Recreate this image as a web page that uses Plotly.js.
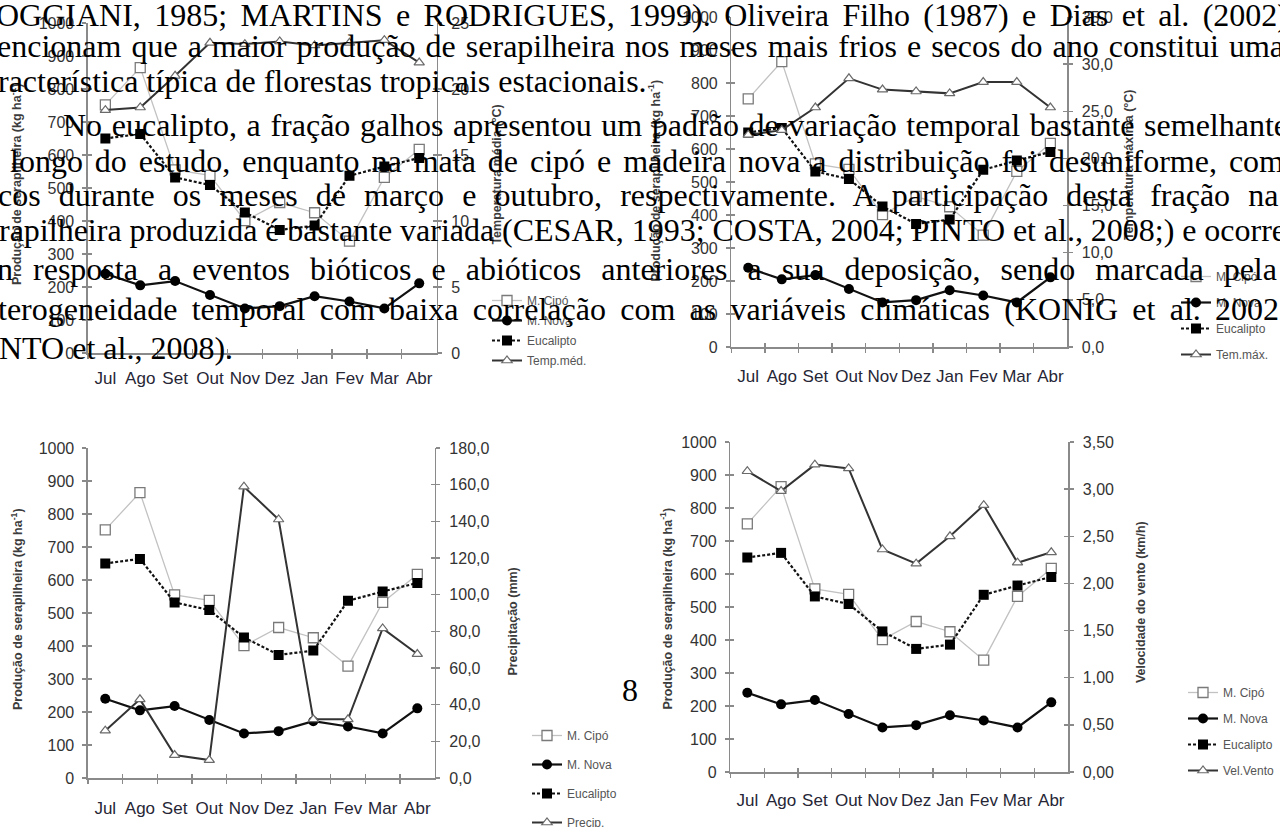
<!DOCTYPE html>
<html><head><meta charset="utf-8">
<script src="https://cdn.plot.ly/plotly-3.0.1.min.js"></script>
<style>
html,body{margin:0;padding:0;background:#fff;overflow:hidden}
#wrap{position:relative;width:1280px;height:827px;overflow:hidden}
#chart{position:absolute;left:0;top:0;width:1280px;height:880px}
#txt{position:absolute;left:0;top:0;width:1280px;height:827px;pointer-events:none;overflow:hidden}
.ln{position:absolute;white-space:nowrap;font-family:"Liberation Serif","Times New Roman",serif;font-size:32px;color:#000;line-height:32px}
</style></head><body>
<div id="wrap"><div id="chart"></div><div id="txt"></div></div>
<script>
// ---- data ----
const meses = ["Jul","Ago","Set","Out","Nov","Dez","Jan","Fev","Mar","Abr"];
const mCipo = [752, 865, 555, 538, 401, 456, 425, 339, 532, 617];
const mNova = [240, 205, 218, 176, 135, 142, 172, 156, 135, 211];
const eucalipto = [650, 664, 532, 509, 426, 373, 386, 537, 565, 591];
const tempMed = [18.4, 18.6, 21.0, 23.5, 23.4, 23.6, 23.3, 23.5, 23.7, 22.0];
const temMax = [22.5, 23.0, 25.4, 28.5, 27.3, 27.1, 26.9, 28.1, 28.1, 25.4];
const precip = [25.8, 42.9, 12.5, 9.8, 158.9, 141.0, 32.0, 32.0, 81.6, 67.6];
const velVento = [3.19, 2.98, 3.26, 3.22, 2.36, 2.21, 2.50, 2.83, 2.22, 2.33];
const nomesSerie = ["M. Cipó", "M. Nova", "Eucalipto"];
const nomesClima = ["Temp.méd.", "Tem.máx.", "Precip.", "Vel.Vento"];
const tituloEsq = "Produção de serapilheira (kg ha<sup>-1</sup>)";
const titulosDir = ["Temperatura média (°C)", "Temperatura máxima (°C)", "Precipitação (mm)", "Velocidade do vento (km/h)"];
const paragrafo = [
  "OGGIANI, 1985; MARTINS e RODRIGUES, 1999). Oliveira Filho (1987) e Dias et al. (2002)",
  "encionam que a maior produção de serapilheira nos meses mais frios e secos do ano constitui uma",
  "racterística típica de florestas tropicais estacionais.",
  "No eucalipto, a fração galhos apresentou um padrão de variação temporal bastante semelhante",
  "longo do estudo, enquanto na mata de cipó e madeira nova a distribuição foi desuniforme, com",
  "cos durante os meses de março e outubro, respectivamente. A participação desta fração na",
  "rapilheira produzida é bastante variada (CESAR, 1993; COSTA, 2004; PINTO et al., 2008;) e ocorre",
  "n resposta a eventos bióticos e abióticos anteriores a sua deposição, sendo marcada pela",
  "terogeneidade temporal com baixa correlação com as variáveis climáticas (KONIG et al. 2002;",
  "NTO et al., 2008)."
];
const pagina = "8";

// ---- layout helpers (pixel positions) ----
const W = 1280, H = 880;   // plot is taller than the window so the cut-off legend does not push margins
const fx = p => p / W, fy = p => 1 - p / H;
const axc = '#8a8a8a';
const climas = [tempMed, temMax, precip, velVento];
const charts = [
  {xd:[88,437], yd:[23,353], r:[0,25], dt:5, fmt:'d', tl:16, tr:497, tc:184, trc:175, leg:[487,286], gap:1, ls:9},
  {xd:[732,1068], yd:[17,347], r:[0,35], dt:5, fmt:'.1f', tl:655, tr:1130, tc:180, trc:165, leg:[1176,262], gap:7, ls:13},
  {xd:[88,435], yd:[448,778], r:[0,180], dt:20, fmt:'.1f', tl:17, tr:513, tc:609, trc:622, leg:[527,721], gap:10, ls:14},
  {xd:[731,1069], yd:[442,772], r:[0,3.5], dt:0.5, fmt:'.2f', tl:667, tr:1142, tc:608, trc:602, leg:[1184,678], gap:7, ls:12}
];
const id = (p, n) => n === 1 ? p : p + n;
const key = (p, n) => p + 'axis' + (n === 1 ? '' : n);

const layout = {
  width: W, height: H, margin: {l:0, r:0, t:0, b:0},
  paper_bgcolor: '#fff', plot_bgcolor: 'rgba(0,0,0,0)',
  separators: ',.', showlegend: true,
  font: {family: 'Liberation Sans, Arial, sans-serif', color: '#333'},
  annotations: []
};
const data = [];
const bounds = meses.map((m, k) => k - 0.5).concat([meses.length - 0.5]);

charts.forEach((c, i) => {
  const xn = i + 1, yl = 2 * i + 1, yr = 2 * i + 2;
  const xo = 5 + i, ylo = 9 + 2 * i, yro = 10 + 2 * i;
  const xdom = [fx(c.xd[0]), fx(c.xd[1])];
  const ydom = [fy(c.yd[1]), fy(c.yd[0])];
  const common = {showgrid:false, zeroline:false, fixedrange:true, tickcolor:axc, tickwidth:1.3};
  layout[key('x', xn)] = Object.assign({}, common, {
    domain: xdom, anchor: id('y', yl), type: 'category', categoryorder: 'array', categoryarray: meses,
    range: [-0.5, meses.length - 0.5], tickson: 'boundaries', ticks: 'outside', ticklen: 4,
    tickangle: 0, ticklabelstandoff: c.ls,
    showline: true, linecolor: axc, linewidth: 1.5, tickfont: {size: 17, color: '#262636'}
  });
  layout[key('y', yl)] = Object.assign({}, common, {
    domain: ydom, anchor: id('x', xn), range: [0, 1000], dtick: 100, tick0: 0,
    ticks: 'outside', ticklen: 4, showline: true, linecolor: axc, linewidth: 1.5, ticklabelstandoff: 5,
    tickfont: {size: 16, color: '#333'}
  });
  layout[key('y', yr)] = Object.assign({}, common, {
    overlaying: id('y', yl), side: 'right', anchor: id('x', xn), range: c.r, dtick: c.dt, tick0: 0,
    tickformat: c.fmt, ticks: 'outside', ticklen: 4, showline: true, linecolor: axc, linewidth: 1.5,
    ticklabelstandoff: 6, tickfont: {size: 16, color: '#333'}
  });
  // inner halves of the crossing ticks
  layout[key('x', xo)] = Object.assign({}, common, {
    overlaying: id('x', xn), anchor: id('y', yl), range: [-0.5, meses.length - 0.5],
    tickmode: 'array', tickvals: bounds, ticks: 'inside', ticklen: 4, showticklabels: false, showline: false
  });
  layout[key('y', ylo)] = Object.assign({}, common, {
    overlaying: id('y', yl), anchor: id('x', xn), side: 'left', range: [0, 1000], dtick: 100, tick0: 0,
    ticks: 'inside', ticklen: 4, showticklabels: false, showline: false
  });
  layout[key('y', yro)] = Object.assign({}, common, {
    overlaying: id('y', yl), anchor: id('x', xn), side: 'right', range: c.r, dtick: c.dt, tick0: 0,
    ticks: 'inside', ticklen: 4, showticklabels: false, showline: false
  });
  // empty traces so the tick-only axes get drawn
  data.push({x: [], y: [], xaxis: id('x', xo), yaxis: id('y', ylo), type: 'scatter', mode: 'lines', showlegend: false, hoverinfo: 'skip'});
  data.push({x: [], y: [], xaxis: id('x', xo), yaxis: id('y', yro), type: 'scatter', mode: 'lines', showlegend: false, hoverinfo: 'skip'});

  const lg = i === 0 ? 'legend' : 'legend' + (i + 1);
  layout[lg] = {
    x: fx(c.leg[0]), y: fy(c.leg[1]), xanchor: 'left', yanchor: 'top',
    bgcolor: 'rgba(0,0,0,0)', borderwidth: 0, tracegroupgap: c.gap,
    font: {size: 12, color: '#555', family: 'Liberation Sans, Arial, sans-serif'}
  };
  const base = {x: meses, xaxis: id('x', xn), mode: 'lines+markers', legend: lg, hoverinfo: 'skip'};
  data.push(Object.assign({}, base, {
    y: mCipo, yaxis: id('y', yl), name: nomesSerie[0], legendgroup: 'a' + i, legendrank: 1,
    line: {color: '#c2c2c2', width: 1.3},
    marker: {symbol: 'square', size: 10, color: '#ffffff', line: {color: '#7a7a7a', width: 1.3}}
  }));
  data.push(Object.assign({}, base, {
    y: mNova, yaxis: id('y', yl), name: nomesSerie[1], legendgroup: 'b' + i, legendrank: 2,
    line: {color: '#111', width: 2.2},
    marker: {symbol: 'circle', size: 10, color: '#000'}
  }));
  data.push(Object.assign({}, base, {
    y: eucalipto, yaxis: id('y', yl), name: nomesSerie[2], legendgroup: 'c' + i, legendrank: 3,
    line: {color: '#111', width: 2.2, dash: '3px,2px'},
    marker: {symbol: 'square', size: 10, color: '#000'}
  }));
  data.push(Object.assign({}, base, {
    y: climas[i], yaxis: id('y', yr), name: nomesClima[i], legendgroup: 'd' + i, legendrank: 4,
    line: {color: '#333', width: 2},
    marker: {symbol: 'triangle-up', size: 9, color: '#ffffff', line: {color: '#6a6a6a', width: 1.2}}
  }));

  const tf = {size: 12.5, color: '#3c3c3c', family: 'Liberation Sans, Arial, sans-serif', weight: 'bold'};
  layout.annotations.push({xref:'paper', yref:'paper', x: fx(c.tl), y: fy(c.tc), text: tituloEsq,
    textangle: -90, showarrow: false, font: tf, xanchor: 'center', yanchor: 'middle'});
  layout.annotations.push({xref:'paper', yref:'paper', x: fx(c.tr), y: fy(c.trc), text: titulosDir[i],
    textangle: -90, showarrow: false, font: tf, xanchor: 'center', yanchor: 'middle'});
});
layout.annotations.push({xref:'paper', yref:'paper', x: fx(630), y: fy(690), text: pagina, showarrow: false,
  font: {size: 32, color: '#000', family: 'Liberation Serif, Times New Roman, serif'}, xanchor:'center', yanchor:'middle'});

Plotly.newPlot('chart', data, layout, {staticPlot: true, displayModeBar: false});

// ---- overlaid justified paragraph text ----
const linhas = [
  {x0:-4, x1:1288, c:17}, {x0:-3, x1:1284, c:48}, {x0:-2, x1:null, c:83},
  {x0:63, x1:1288, c:127}, {x0:10, x1:1284, c:163}, {x0:-2, x1:1282, c:197},
  {x0:-1, x1:1286, c:232}, {x0:-3, x1:1277, c:271}, {x0:-2, x1:1288, c:311}, {x0:-1, x1:null, c:350}
];
const ctx = document.createElement('canvas').getContext('2d');
ctx.font = '32px "Liberation Serif"';
const box = document.getElementById('txt');
paragrafo.forEach((t, k) => {
  const L = linhas[k];
  const s = document.createElement('span');
  s.className = 'ln';
  s.textContent = t;
  if (L.x1 !== null) {
    const nat = ctx.measureText(t).width;
    const n = (t.match(/ /g) || []).length;
    if (n) s.style.wordSpacing = ((L.x1 - L.x0 - nat) / n).toFixed(2) + 'px';
  }
  s.style.left = L.x0 + 'px';
  s.style.top = (L.c - 18) + 'px';
  box.appendChild(s);
});
</script>
</body></html>
